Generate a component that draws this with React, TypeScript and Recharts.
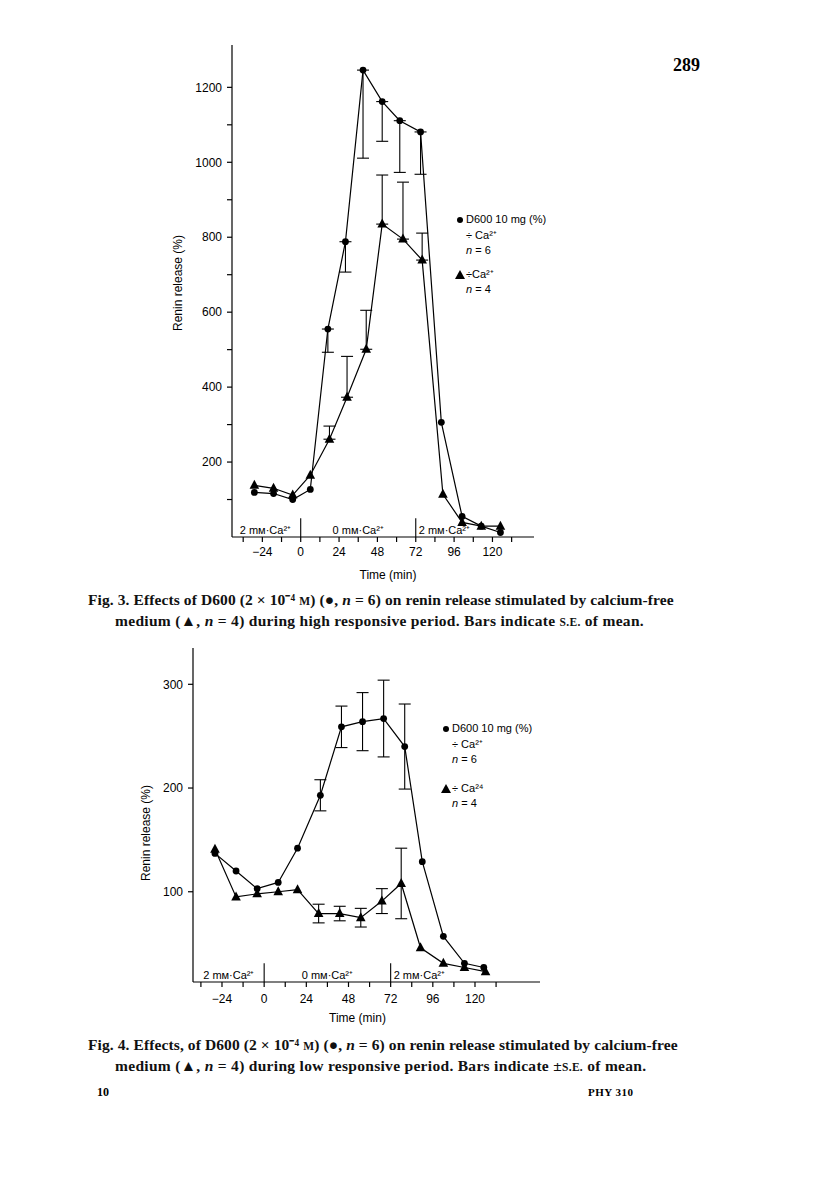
import React from "react";
import { LineChart, Line, XAxis, YAxis, ErrorBar, ReferenceLine, ReferenceArea, Label } from "recharts";

// shared x ticks (minutes), labels only every 24
const xTicks = [-36, -24, -12, 0, 12, 24, 36, 48, 60, 72, 84, 96, 108, 120, 132];

// Fig. 3 – high responsive period
const fig3DotTimes = [-29, -17, -5, 6, 17, 28, 39, 51, 62, 75, 88, 101, 113, 125];
const fig3DotValues = [119, 116, 100, 127, 555, 788, 1246, 1162, 1111, 1081, 306, 55, 29, 12];
const fig3DotErrDown = [0, 0, 0, 0, 62, 81, 235, 106, 138, 113, 0, 0, 0, 0];
const fig3TriTimes = [-29, -17, -5, 6, 18, 29, 41, 51, 64, 76, 89, 101, 113, 125];
const fig3TriValues = [138, 130, 112, 165, 261, 373, 501, 835, 795, 739, 114, 39, 29, 29];
const fig3TriErrUp = [0, 0, 0, 0, 35, 109, 104, 131, 152, 72, 0, 0, 0, 0];
const fig3YTicks = [100, 200, 300, 400, 500, 600, 700, 800, 900, 1000, 1100, 1200];

// Fig. 4 – low responsive period
const fig4DotTimes = [-28, -16, -4, 8, 19, 32, 44, 56, 68, 80, 90, 102, 114, 125];
const fig4DotValues = [137, 120, 103, 109, 142, 193, 259, 264, 267, 240, 129, 57, 31, 27];
const fig4DotErr = [0, 0, 0, 0, 0, 15, 20, 28, 37, 41, 0, 0, 0, 0];
const fig4TriTimes = [-28, -16, -4, 8, 19, 31, 43, 55, 67, 78, 89, 102, 114, 126];
const fig4TriValues = [141, 95, 98, 100, 102, 79, 79, 75, 91, 108, 46, 31, 27, 23];
const fig4TriErr = [0, 0, 0, 0, 0, 9, 7, 9, 12, 34, 0, 0, 0, 0];
const fig4YTicks = [100, 200, 300];

const bandLabels = ["2 m\u1D0D\u00B7Ca\u00B2\u207A", "0 m\u1D0D\u00B7Ca\u00B2\u207A", "2 m\u1D0D\u00B7Ca\u00B2\u207A"];

const sans = "'Liberation Sans', Arial, sans-serif";
const serif = "'Liberation Serif', 'Times New Roman', serif";

const fig3Dots = fig3DotTimes.map((t, i) => ({
  t, v: fig3DotValues[i], err: fig3DotErrDown[i] ? [fig3DotErrDown[i], 0] : null,
}));
const fig3Tris = fig3TriTimes.map((t, i) => ({
  t, v: fig3TriValues[i], err: fig3TriErrUp[i] ? [0, fig3TriErrUp[i]] : null,
}));
const fig4Dots = fig4DotTimes.map((t, i) => ({ t, v: fig4DotValues[i], err: fig4DotErr[i] || null }));
const fig4Tris = fig4TriTimes.map((t, i) => ({ t, v: fig4TriValues[i], err: fig4TriErr[i] || null }));

const triangleDot = (p: any) => {
  if (p.cx == null || p.cy == null) return <g key={`tri-${p.index}`} />;
  const { cx, cy } = p;
  return (
    <polygon
      key={`tri-${p.index}`}
      points={`${cx},${cy - 5.5} ${cx - 4.8},${cy + 3.5} ${cx + 4.8},${cy + 3.5}`}
      fill="#000"
    />
  );
};

const fmtX = (v: number) => (v % 24 === 0 ? (v < 0 ? `\u2212${-v}` : `${v}`) : "");

const yLabel = (dy: number) => (props: any) => {
  const vb = props.viewBox;
  const x = vb.x + vb.width / 2;
  const y = vb.y + vb.height / 2 + dy;
  return (
    <text x={x} y={y} transform={`rotate(-90 ${x} ${y})`} textAnchor="middle" dominantBaseline="central"
      fontSize={12} fontFamily={sans} fill="#000">
      Renin release (%)
    </text>
  );
};

const xLabel = (dx: number, dy: number) => (props: any) => {
  const vb = props.viewBox;
  return (
    <text x={vb.x + vb.width / 2 + dx} y={vb.y + dy} textAnchor="middle" dominantBaseline="central"
      fontSize={12} fontFamily={sans} fill="#000">
      Time (min)
    </text>
  );
};

const tickStyle = { fontSize: 12, fill: "#000", fontFamily: sans };
const bandStyle = { fontSize: 11, fill: "#000", fontFamily: sans };

const LegendBlock = ({ left, top, gap, triText }: { left: number; top: number; gap: number; triText: string }) => (
  <div style={{ position: "absolute", left, top, fontFamily: sans, fontSize: 11, color: "#000", lineHeight: "15.5px" }}>
    <div style={{ position: "relative" }}>
      <span style={{ position: "absolute", left: -9, top: 5, width: 6, height: 6, borderRadius: 3, background: "#000" }} />
      D600 10 mg (%)
    </div>
    <div>÷ Ca²⁺</div>
    <div><i>n</i> = 6</div>
    <div style={{ position: "relative", marginTop: gap }}>
      <svg width={10} height={9} style={{ position: "absolute", left: -11, top: 3 }}>
        <polygon points="5,0 0,9 10,9" fill="#000" />
      </svg>
      {triText}
    </div>
    <div><i>n</i> = 4</div>
  </div>
);

const captionBox = { position: "absolute" as const, left: 88, width: 640, fontFamily: serif, fontWeight: 700, fontSize: 15.5, color: "#111", lineHeight: "19px", whiteSpace: "nowrap" as const };

export default function App() {
  return (
    <div style={{ position: "absolute", left: 0, top: 0, width: 816, height: 1185, background: "#fff", overflow: "hidden" }}>
      <div style={{ position: "absolute", left: 673, top: 55, fontFamily: serif, fontWeight: 700, fontSize: 18 }}>289</div>

      <div style={{ position: "absolute", left: 124, top: 30 }}>
        <LineChart width={436} height={560} margin={{ top: 15, right: 26, bottom: 3, left: 0 }}>
          <XAxis dataKey="t" type="number" domain={[-43, 146]} ticks={xTicks} tickFormatter={fmtX}
            allowDataOverflow interval={0} tick={tickStyle} tickSize={5} tickMargin={5}
            stroke="#000" strokeWidth={1.2} height={50}>
            <Label content={xLabel(5, 38)} />
          </XAxis>
          <YAxis type="number" domain={[0, 1313]} ticks={fig3YTicks} allowDataOverflow interval={0}
            tickFormatter={(v: number) => (v % 200 === 0 ? `${v}` : "")} tick={tickStyle} tickSize={5} tickMargin={5}
            stroke="#000" strokeWidth={1.2} width={108}>
            <Label content={yLabel(-8)} />
          </YAxis>
          <ReferenceArea x1={-40} x2={0} y1={0} y2={50} fill="none" stroke="none" ifOverflow="visible"
            label={{ value: bandLabels[0], position: "insideBottomLeft", offset: 3, style: bandStyle }} />
          <ReferenceArea x1={0} x2={72} y1={0} y2={50} fill="none" stroke="none" ifOverflow="visible"
            label={{ value: bandLabels[1], position: "insideBottom", offset: 3, style: bandStyle }} />
          <ReferenceArea x1={72} x2={146} y1={0} y2={50} fill="none" stroke="none" ifOverflow="visible"
            label={{ value: bandLabels[2], position: "insideBottomLeft", offset: 3, style: bandStyle }} />
          <ReferenceLine segment={[{ x: 0, y: 0 }, { x: 0, y: 50 }]} stroke="#000" strokeWidth={1.1} ifOverflow="visible" />
          <ReferenceLine segment={[{ x: 72, y: 0 }, { x: 72, y: 50 }]} stroke="#000" strokeWidth={1.1} ifOverflow="visible" />
          <Line data={fig3Dots} dataKey="v" type="linear" stroke="#000" strokeWidth={1.2}
            dot={{ r: 3.4, fill: "#000", stroke: "#000", strokeWidth: 0 }} isAnimationActive={false}>
            <ErrorBar dataKey="err" direction="y" width={6} stroke="#000" strokeWidth={1.1} />
          </Line>
          <Line data={fig3Tris} dataKey="v" type="linear" stroke="#000" strokeWidth={1.2}
            dot={triangleDot} isAnimationActive={false}>
            <ErrorBar dataKey="err" direction="y" width={6} stroke="#000" strokeWidth={1.1} />
          </Line>
        </LineChart>
      </div>
      <LegendBlock left={466} top={212} gap={8} triText="÷Ca²⁺" />

      <div style={{ ...captionBox, top: 590 }}>
        <div style={{ letterSpacing: 0.1 }}>Fig. 3. Effects of D600 (2 × 10⁻⁴ <span style={{ fontSize: 11.5 }}>M</span>) (●, <i>n</i> = 6) on renin release stimulated by calcium-free</div>
        <div style={{ paddingLeft: 27, letterSpacing: 0.3 }}>medium (▲, <i>n</i> = 4) during high responsive period. Bars indicate <span style={{ fontSize: 11.5 }}>S.E.</span> of mean.</div>
      </div>

      <div style={{ position: "absolute", left: 99, top: 630 }}>
        <LineChart width={461} height={404} margin={{ top: 18, right: 20, bottom: 2, left: 0 }}>
          <XAxis dataKey="t" type="number" domain={[-40.5, 157]} ticks={xTicks} tickFormatter={fmtX}
            allowDataOverflow interval={0} tick={tickStyle} tickSize={5} tickMargin={7}
            stroke="#000" strokeWidth={1.2} height={50}>
            <Label content={xLabel(-9, 36)} />
          </XAxis>
          <YAxis type="number" domain={[13, 335]} ticks={fig4YTicks} allowDataOverflow interval={0}
            tick={tickStyle} tickSize={5} tickMargin={5} stroke="#000" strokeWidth={1.2} width={94}>
            <Label content={yLabel(18)} />
          </YAxis>
          <ReferenceArea x1={-36.4} x2={0} y1={13} y2={40} fill="none" stroke="none" ifOverflow="visible"
            label={{ value: bandLabels[0], position: "insideBottomLeft", offset: 3, style: bandStyle }} />
          <ReferenceArea x1={0} x2={72} y1={13} y2={40} fill="none" stroke="none" ifOverflow="visible"
            label={{ value: bandLabels[1], position: "insideBottom", offset: 3, style: bandStyle }} />
          <ReferenceArea x1={72} x2={157} y1={13} y2={40} fill="none" stroke="none" ifOverflow="visible"
            label={{ value: bandLabels[2], position: "insideBottomLeft", offset: 3, style: bandStyle }} />
          <ReferenceLine segment={[{ x: 0, y: 13 }, { x: 0, y: 31 }]} stroke="#000" strokeWidth={1.1} ifOverflow="visible" />
          <ReferenceLine segment={[{ x: 72, y: 13 }, { x: 72, y: 31 }]} stroke="#000" strokeWidth={1.1} ifOverflow="visible" />
          <Line data={fig4Dots} dataKey="v" type="linear" stroke="#000" strokeWidth={1.2}
            dot={{ r: 3.4, fill: "#000", stroke: "#000", strokeWidth: 0 }} isAnimationActive={false}>
            <ErrorBar dataKey="err" direction="y" width={6} stroke="#000" strokeWidth={1.1} />
          </Line>
          <Line data={fig4Tris} dataKey="v" type="linear" stroke="#000" strokeWidth={1.2}
            dot={triangleDot} isAnimationActive={false}>
            <ErrorBar dataKey="err" direction="y" width={6} stroke="#000" strokeWidth={1.1} />
          </Line>
        </LineChart>
      </div>
      <LegendBlock left={452} top={721} gap={13} triText="÷ Ca²⁴" />

      <div style={{ ...captionBox, top: 1035 }}>
        <div style={{ letterSpacing: 0.1 }}>Fig. 4. Effects, of D600 (2 × 10⁻⁴ <span style={{ fontSize: 11.5 }}>M</span>) (●, <i>n</i> = 6) on renin release stimulated by calcium-free</div>
        <div style={{ paddingLeft: 27, letterSpacing: 0.3 }}>medium (▲, <i>n</i> = 4) during low responsive period. Bars indicate ±<span style={{ fontSize: 11.5 }}>S.E.</span> of mean.</div>
      </div>

      <div style={{ position: "absolute", left: 97, top: 1085, fontFamily: serif, fontWeight: 700, fontSize: 12 }}>10</div>
      <div style={{ position: "absolute", left: 588, top: 1086, fontFamily: serif, fontWeight: 700, fontSize: 11, letterSpacing: 0.5 }}>PHY 310</div>
    </div>
  );
}
